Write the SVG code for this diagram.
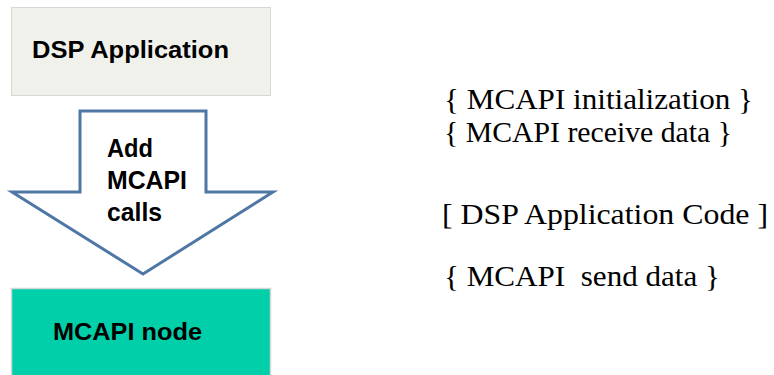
<svg xmlns="http://www.w3.org/2000/svg" width="774" height="375" viewBox="0 0 774 375">
  <style>
    .box-label { font-family: "Liberation Sans", Arial, sans-serif; font-weight: bold; font-size: 24px; fill: #000; }
    .arrow-label { font-family: "Liberation Sans", Arial, sans-serif; font-weight: bold; font-size: 26px; fill: #000; }
    .code { font-family: "Liberation Serif", "Times New Roman", serif; font-size: 30px; fill: #000; }
    .block-arrow { fill: #ffffff; stroke: #4e77a5; stroke-width: 3; stroke-linejoin: miter; }
  </style>
  <rect width="774" height="375" fill="#ffffff"/>

  <!-- source application box -->
  <g id="dsp-application">
    <rect x="11.5" y="7.5" width="259" height="88" fill="#f1f1ec" stroke="#d6d6d6" stroke-width="1"/>
    <text class="box-label" x="32" y="58" textLength="197" lengthAdjust="spacingAndGlyphs">DSP Application</text>
  </g>

  <!-- block arrow: transformation step -->
  <g id="connectors">
    <g id="add-mcapi-calls">
      <polygon class="block-arrow" points="80,111 206,111 206,192 273,192 143,274 12,192 80,192"/>
      <text class="arrow-label" x="107" y="157" textLength="46" lengthAdjust="spacingAndGlyphs">Add</text>
      <text class="arrow-label" x="107" y="189" textLength="80" lengthAdjust="spacingAndGlyphs">MCAPI</text>
      <text class="arrow-label" x="107" y="221" textLength="55" lengthAdjust="spacingAndGlyphs">calls</text>
    </g>
  </g>

  <!-- resulting node box -->
  <g id="mcapi-node">
    <rect x="11.5" y="288.5" width="259" height="90" fill="#00cfaa" stroke="#d6d6d6" stroke-width="1.5"/>
    <text class="box-label" x="53" y="340" textLength="149" lengthAdjust="spacingAndGlyphs">MCAPI node</text>
  </g>

  <!-- code outline -->
  <g id="code-outline">
    <text class="code" x="444" y="109" textLength="309" lengthAdjust="spacingAndGlyphs">{ MCAPI initialization }</text>
    <text class="code" x="444" y="142" textLength="288" lengthAdjust="spacingAndGlyphs">{ MCAPI receive data }</text>
    <text class="code" x="442" y="224" textLength="326" lengthAdjust="spacingAndGlyphs">[ DSP Application Code ]</text>
    <text class="code" x="444" y="286" textLength="276" lengthAdjust="spacingAndGlyphs" xml:space="preserve">{ MCAPI  send data }</text>
  </g>
</svg>
